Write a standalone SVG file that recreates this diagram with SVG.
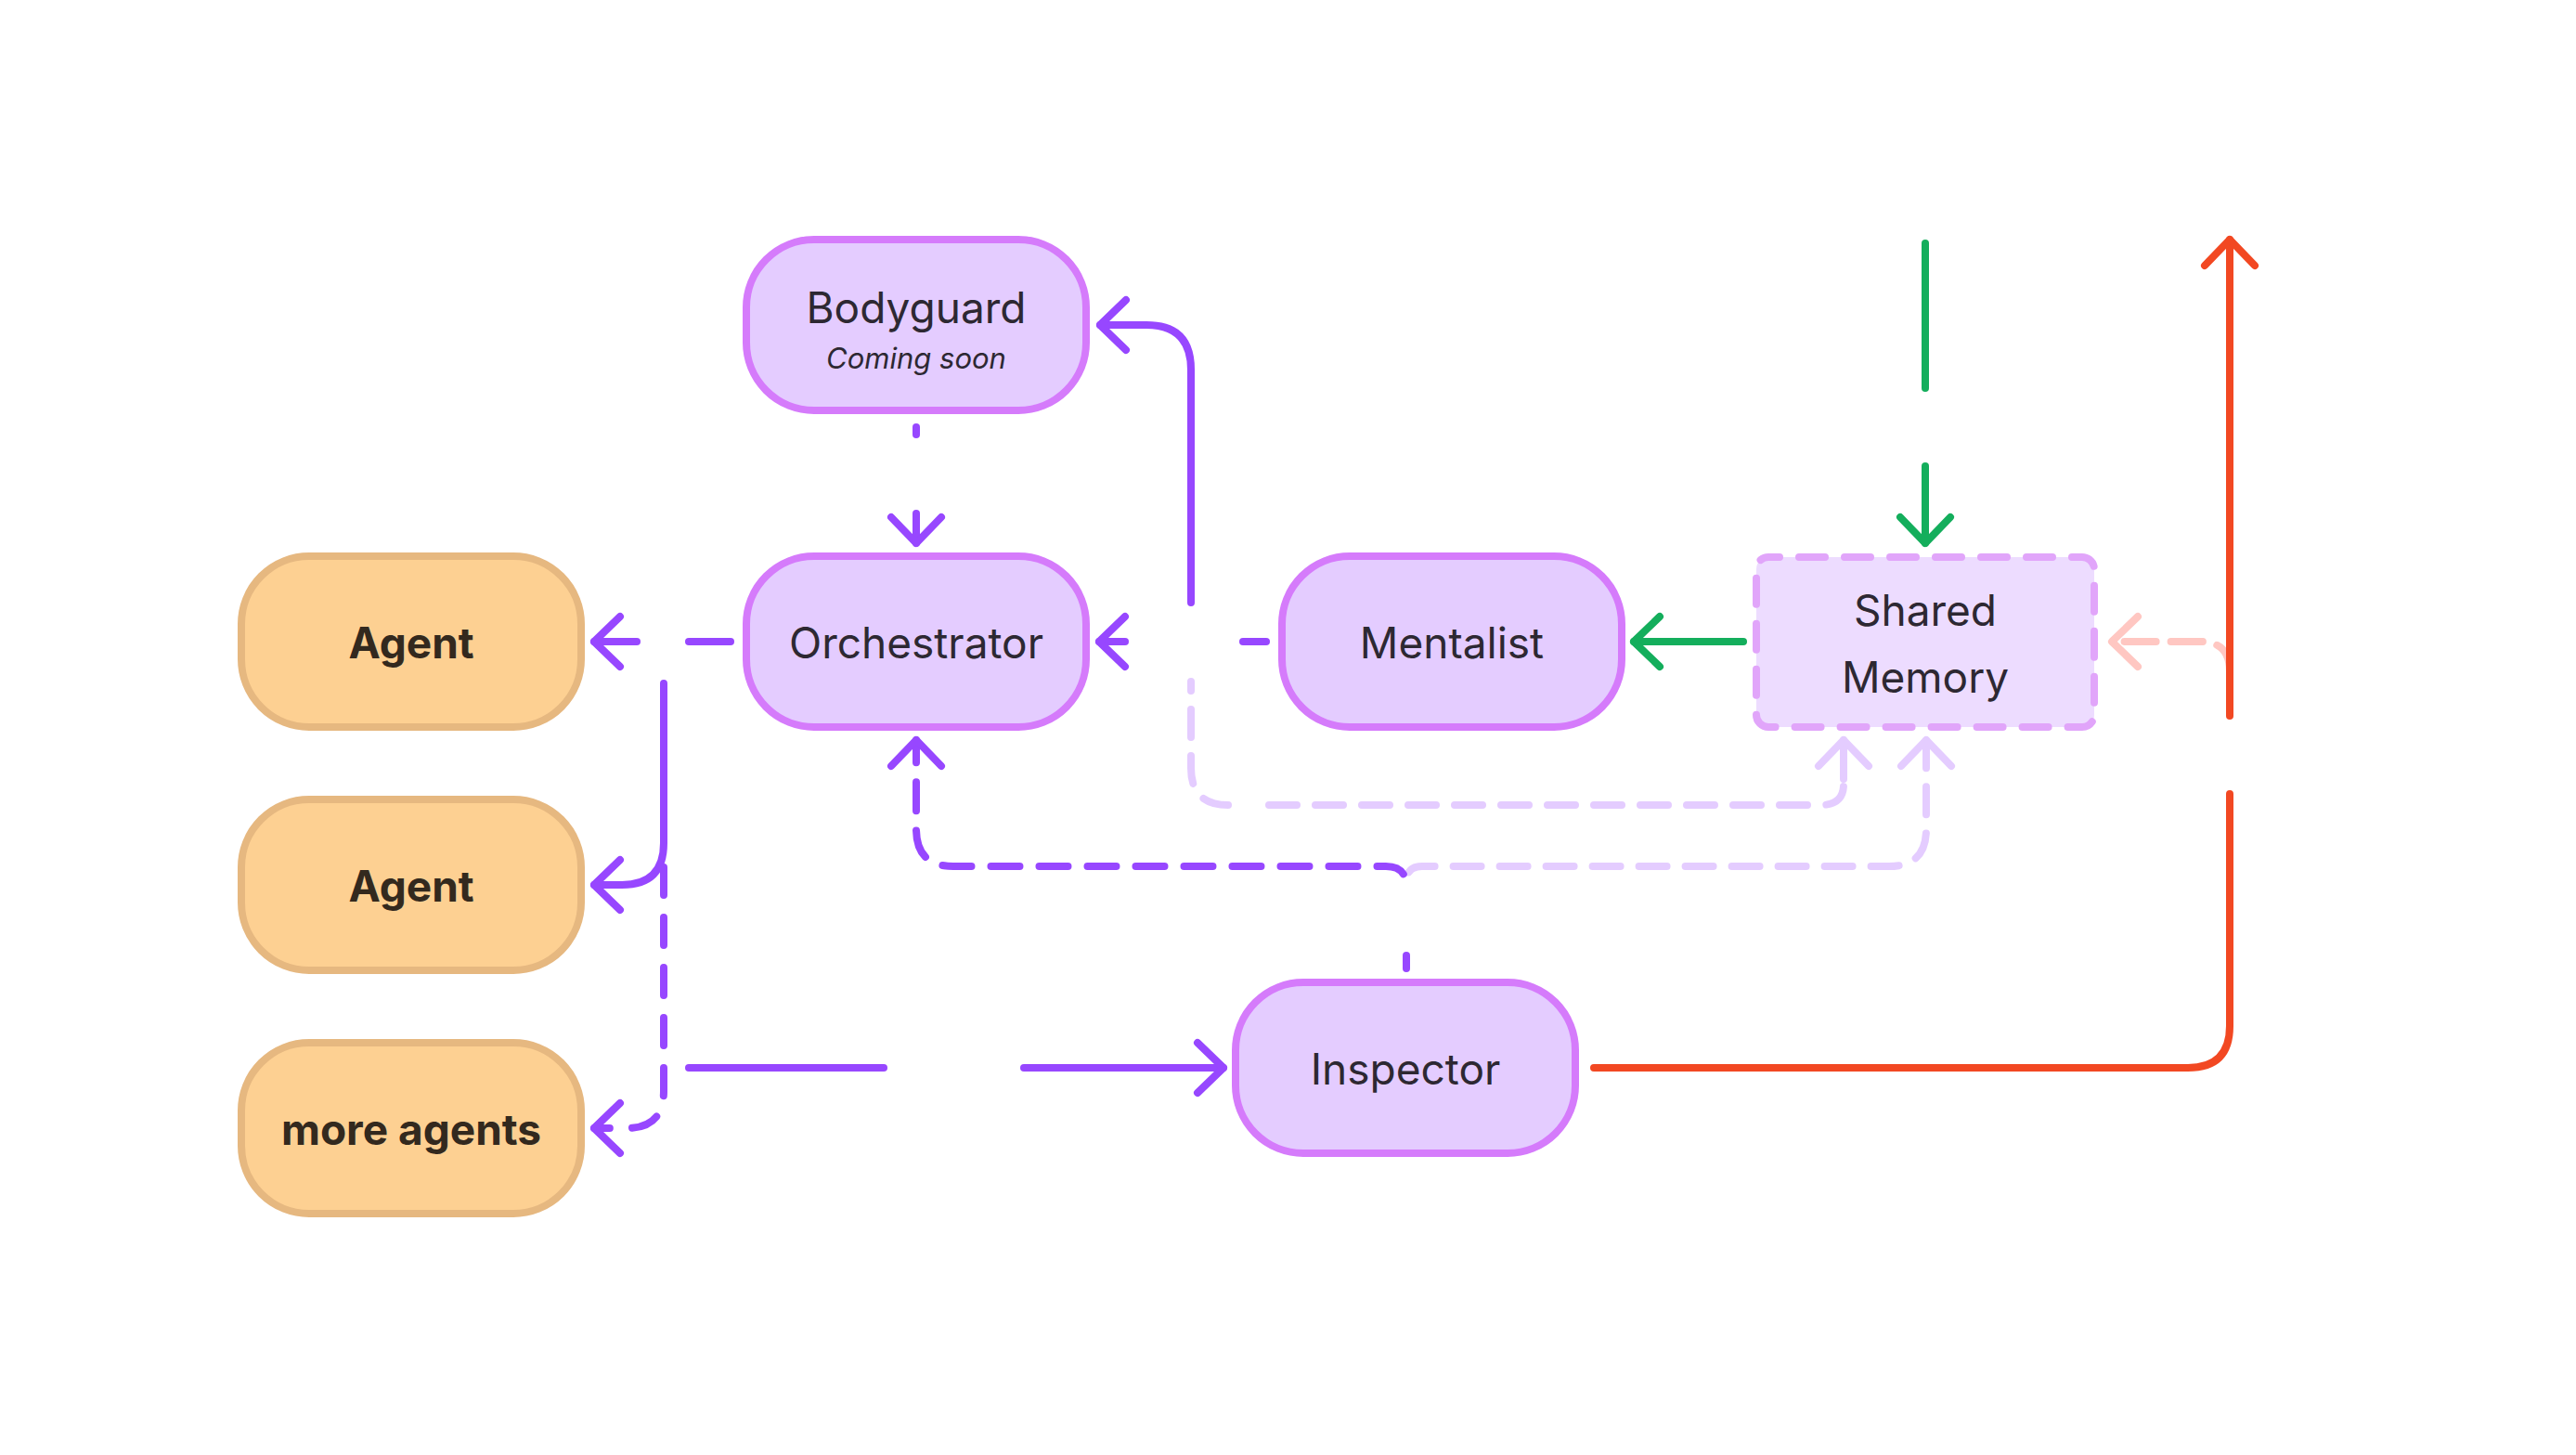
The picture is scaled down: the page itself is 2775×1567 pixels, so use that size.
<svg xmlns="http://www.w3.org/2000/svg" width="2775" height="1567" viewBox="0 0 2775 1567">
<style>
.node{fill:#e4ccff;stroke:#d57bfb;stroke-width:8}
.agent{fill:#fdd092;stroke:#e6b880;stroke-width:8}
.mem{fill:#eddcff;stroke:#e1a5fa;stroke-width:8;stroke-dasharray:28 21;stroke-dashoffset:16;stroke-linecap:round}
.t{font-family:Inter,"Noto Sans","Liberation Sans",sans-serif;font-size:46px;fill:#2d2832;text-anchor:middle}
.tb{font-family:Inter,"Noto Sans","Liberation Sans",sans-serif;font-size:46px;font-weight:700;fill:#33291e;text-anchor:middle}
.ti{font-family:Inter,"Noto Sans","Liberation Sans",sans-serif;font-size:31px;font-style:italic;fill:#2d2832;text-anchor:middle}
.c{fill:none;stroke-width:8;stroke-linecap:round;stroke-linejoin:round}
.p{stroke:#9747ff}
.lp{stroke:#e4ccff}
.g{stroke:#14ae5c}
.r{stroke:#f24822}
.pk{stroke:#ffc7c2}
.m{fill:none;stroke-width:8;stroke-linecap:round;stroke-linejoin:round;stroke-dasharray:none}
</style>
<defs>
<marker id="ap" markerUnits="userSpaceOnUse" viewBox="-40 -40 80 80" markerWidth="80" markerHeight="80" refX="0" refY="0" orient="auto" overflow="visible"><path class="m" stroke="#9747ff" d="M-28 -27 L0 0 L-28 27"/></marker>
<marker id="alp" markerUnits="userSpaceOnUse" viewBox="-40 -40 80 80" markerWidth="80" markerHeight="80" refX="0" refY="0" orient="auto" overflow="visible"><path class="m" stroke="#e4ccff" d="M-28 -27 L0 0 L-28 27"/></marker>
<marker id="ag" markerUnits="userSpaceOnUse" viewBox="-40 -40 80 80" markerWidth="80" markerHeight="80" refX="0" refY="0" orient="auto" overflow="visible"><path class="m" stroke="#14ae5c" d="M-28 -27 L0 0 L-28 27"/></marker>
<marker id="ar" markerUnits="userSpaceOnUse" viewBox="-40 -40 80 80" markerWidth="80" markerHeight="80" refX="0" refY="0" orient="auto" overflow="visible"><path class="m" stroke="#f24822" d="M-28 -27 L0 0 L-28 27"/></marker>
<marker id="apk" markerUnits="userSpaceOnUse" viewBox="-40 -40 80 80" markerWidth="80" markerHeight="80" refX="0" refY="0" orient="auto" overflow="visible"><path class="m" stroke="#ffc7c2" d="M-28 -27 L0 0 L-28 27"/></marker>
</defs>
<rect width="2775" height="1567" fill="#ffffff"/>

<g id="connectors">
  <!-- light purple: to Shared Memory (left branch) -->
  <path class="c lp" stroke-dasharray="30 20" stroke-dashoffset="20" d="M1283 734 L1283 827 Q1283 867 1323 867"/>
  <path class="c lp" stroke-dasharray="30 20" stroke-dashoffset="33" d="M1350 867 L1961 867 Q1986 867 1986 845"/>
  <path class="c lp" d="M1986 839 L1986 797" marker-end="url(#alp)"/>
  <!-- light purple: Inspector to Shared Memory -->
  <path class="c lp" stroke-dasharray="30 20" stroke-dashoffset="39" d="M1515 950 Q1515 933 1532 933 L2035 933 Q2075 933 2075 893 L2075 797" marker-end="url(#alp)"/>
  <!-- pink: to Shared Memory from right -->
  <path class="c pk" stroke-dasharray="34 16" stroke-dashoffset="34" d="M2402 740 L2402 723 Q2402 691 2370 691 L2275 691" marker-end="url(#apk)"/>

  <!-- Bodyguard -> Orchestrator -->
  <path class="c p" d="M987 460 L987 468"/>
  <path class="c p" d="M987 553 L987 585" marker-end="url(#ap)"/>
  <!-- Orchestrator -> Agent -->
  <path class="c p" d="M787 691 L742 691"/>
  <path class="c p" d="M686 691 L640 691" marker-end="url(#ap)"/>
  <!-- Orchestrator -> Agent 2 -->
  <path class="c p" d="M715 736 L715 908 Q715 953 670 953 L640 953" marker-end="url(#ap)"/>
  <!-- Orchestrator -> more agents -->
  <path class="c p" stroke-dasharray="30 24" d="M715 934 L715 1175 Q715 1215 675 1215 L640 1215" marker-end="url(#ap)"/>
  <!-- Orchestrator -> Inspector -->
  <path class="c p" d="M742 1150 L952 1150"/>
  <path class="c p" d="M1103 1150 L1318 1150" marker-end="url(#ap)"/>
  <!-- Mentalist -> Orchestrator -->
  <path class="c p" d="M1364 691 L1339 691"/>
  <path class="c p" d="M1212 691 L1184 691" marker-end="url(#ap)"/>
  <!-- to Bodyguard -->
  <path class="c p" d="M1283 649 L1283 398 Q1283 350 1235 350 L1185 350" marker-end="url(#ap)"/>
  <!-- Inspector -> Orchestrator -->
  <path class="c p" d="M1515 1029 L1515 1043"/>
  <path class="c p" stroke-dasharray="31 21" stroke-dashoffset="38" d="M1515 955 Q1515 933 1493 933 L1027 933 Q987 933 987 893 L987 797" marker-end="url(#ap)"/>

  <!-- green -->
  <path class="c g" d="M2074 262 L2074 418"/>
  <path class="c g" d="M2074 502 L2074 585" marker-end="url(#ag)"/>
  <path class="c g" d="M1878 691 L1760 691" marker-end="url(#ag)"/>

  <!-- red -->
  <path class="c r" d="M1717 1150 L2357 1150 Q2402 1150 2402 1105 L2402 855"/>
  <path class="c r" d="M2402 771 L2402 258" marker-end="url(#ar)"/>
</g>

<g id="node-bodyguard">
  <rect class="node" x="804" y="258" width="366" height="184" rx="73"/>
  <text class="t" x="987" y="348">Bodyguard</text>
  <text class="ti" x="987" y="397">Coming soon</text>
</g>
<g id="node-orchestrator">
  <rect class="node" x="804" y="599" width="366" height="184" rx="73"/>
  <text class="t" x="987" y="709">Orchestrator</text>
</g>
<g id="node-mentalist">
  <rect class="node" x="1381" y="599" width="366" height="184" rx="73"/>
  <text class="t" x="1564" y="709">Mentalist</text>
</g>
<g id="node-shared-memory">
  <rect class="mem" x="1892" y="600" width="364" height="183" rx="13"/>
  <text class="t" x="2074" y="674">Shared</text>
  <text class="t" x="2074" y="746">Memory</text>
</g>
<g id="node-inspector">
  <rect class="node" x="1331" y="1058" width="366" height="184" rx="73"/>
  <text class="t" x="1514" y="1168">Inspector</text>
</g>
<g id="node-agent-1">
  <rect class="agent" x="260" y="599" width="366" height="184" rx="73"/>
  <text class="tb" x="443" y="709">Agent</text>
</g>
<g id="node-agent-2">
  <rect class="agent" x="260" y="861" width="366" height="184" rx="73"/>
  <text class="tb" x="443" y="971">Agent</text>
</g>
<g id="node-more-agents">
  <rect class="agent" x="260" y="1123" width="366" height="184" rx="73"/>
  <text class="tb" x="443" y="1233">more agents</text>
</g>
</svg>
